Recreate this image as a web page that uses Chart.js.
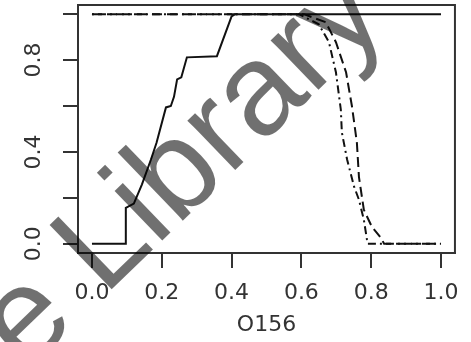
<!DOCTYPE html>
<html>
<head>
<meta charset="utf-8">
<script src="https://cdn.jsdelivr.net/npm/chart.js@4"></script>
<style>
html,body{margin:0;padding:0;background:#fff;}
canvas{display:block;}
</style>
</head>
<body>
<canvas id="c" width="471" height="342"></canvas>
<script>
// ---- data ----
const xTicks = [0, 0.2, 0.4, 0.6, 0.8, 1.0];
const yTicks = [0, 0.2, 0.4, 0.6, 0.8, 1.0];
const yTickLabels = ['0.0', '', '0.4', '', '0.8', ''];
const xTitle = 'O156';

// solid curve
const solidX = [0, 0.097, 0.097, 0.12, 0.143, 0.169, 0.185, 0.212, 0.226, 0.235, 0.244, 0.256, 0.272, 0.358, 0.40, 0.41, 1.0];
const solidY = [0, 0, 0.157, 0.175, 0.258, 0.367, 0.44, 0.594, 0.60, 0.64, 0.716, 0.725, 0.812, 0.817, 0.99, 1.0, 1.0];
// dot-dash curve
const dotdashX = [0, 0.593, 0.65, 0.679, 0.699, 0.713, 0.716, 0.731, 0.751, 0.765, 0.779, 0.788, 0.79, 1.0];
const dotdashY = [1, 1, 0.956, 0.878, 0.747, 0.585, 0.485, 0.367, 0.249, 0.192, 0.105, 0.017, 0, 0];
// dashed curve
const dashedX = [0, 0.607, 0.67, 0.699, 0.728, 0.745, 0.759, 0.765, 0.779, 0.802, 0.828, 0.837, 1.0];
const dashedY = [1, 1, 0.965, 0.878, 0.747, 0.598, 0.441, 0.29, 0.148, 0.074, 0.026, 0, 0];

const watermark = 'e Library';

const pts = (xs, ys) => xs.map((x, i) => ({x: x, y: ys[i]}));
const FONT = 'DejaVu Sans';
const INK = '#333';

const boxPlugin = {
  id: 'rbox',
  afterDraw(chart) {
    const ctx = chart.ctx, a = chart.chartArea, ys = chart.scales.y;
    ctx.save();
    ctx.strokeStyle = INK;
    ctx.lineWidth = 2;
    ctx.strokeRect(a.left, a.top, a.right - a.left, a.bottom - a.top);
    // rotated y tick labels (R style)
    ctx.fillStyle = INK;
    ctx.font = '22px "' + FONT + '"';
    ctx.textAlign = 'center';
    ctx.textBaseline = 'middle';
    yTicks.forEach((v, i) => {
      const lab = yTickLabels[i];
      if (!lab) return;
      const py = ys.getPixelForValue(v);
      ctx.save();
      ctx.translate(34, py);
      ctx.rotate(-Math.PI / 2);
      ctx.fillText(lab, 0, 0);
      ctx.restore();
    });
    // watermark
    ctx.save();
    ctx.fillStyle = 'rgba(0,0,0,0.56)';
    ctx.font = '130px "Liberation Sans"';
    ctx.textAlign = 'left';
    ctx.textBaseline = 'alphabetic';
    ctx.translate(26, 372);
    ctx.rotate(-44 * Math.PI / 180);
    ctx.fillText(watermark, 0, 0);
    ctx.restore();
    ctx.restore();
  }
};

new Chart(document.getElementById('c'), {
  type: 'scatter',
  data: {
    datasets: [
      {data: pts(solidX, solidY), showLine: true, borderColor: '#111', borderWidth: 2, pointRadius: 0, tension: 0, fill: false},
      {data: pts(dotdashX, dotdashY), showLine: true, borderColor: '#111', borderWidth: 2, borderDash: [2, 4, 8, 4], pointRadius: 0, tension: 0, fill: false},
      {data: pts(dashedX, dashedY), showLine: true, borderColor: '#111', borderWidth: 2, borderDash: [10, 5], pointRadius: 0, tension: 0, fill: false}
    ]
  },
  options: {
    responsive: false,
    animation: false,
    devicePixelRatio: 1,
    layout: {padding: {left: 0, top: 5, right: 14, bottom: 0}},
    plugins: {legend: {display: false}, tooltip: {enabled: false}},
    scales: {
      x: {
        type: 'linear', min: -0.04, max: 1.04,
        afterBuildTicks: s => { s.ticks = xTicks.map(v => ({value: v})); },
        afterFit: s => { s.height = 89; },
        grid: {drawOnChartArea: false, drawTicks: true, tickLength: 15, color: INK, lineWidth: 2},
        border: {display: true, color: INK, width: 2},
        ticks: {callback: v => Number(v).toFixed(1), font: {family: FONT, size: 22}, color: INK, padding: 12, maxRotation: 0, minRotation: 0, autoSkip: false},
        title: {display: true, text: xTitle, font: {family: FONT, size: 22}, color: INK, padding: {top: 0, bottom: 4}}
      },
      y: {
        type: 'linear', min: -0.04, max: 1.04,
        afterBuildTicks: s => { s.ticks = yTicks.map(v => ({value: v})); },
        afterFit: s => { s.width = 78; },
        grid: {drawOnChartArea: false, drawTicks: true, tickLength: 15, color: INK, lineWidth: 2},
        border: {display: true, color: INK, width: 2},
        ticks: {display: false}
      }
    }
  },
  plugins: [boxPlugin]
});
</script>
</body>
</html>
